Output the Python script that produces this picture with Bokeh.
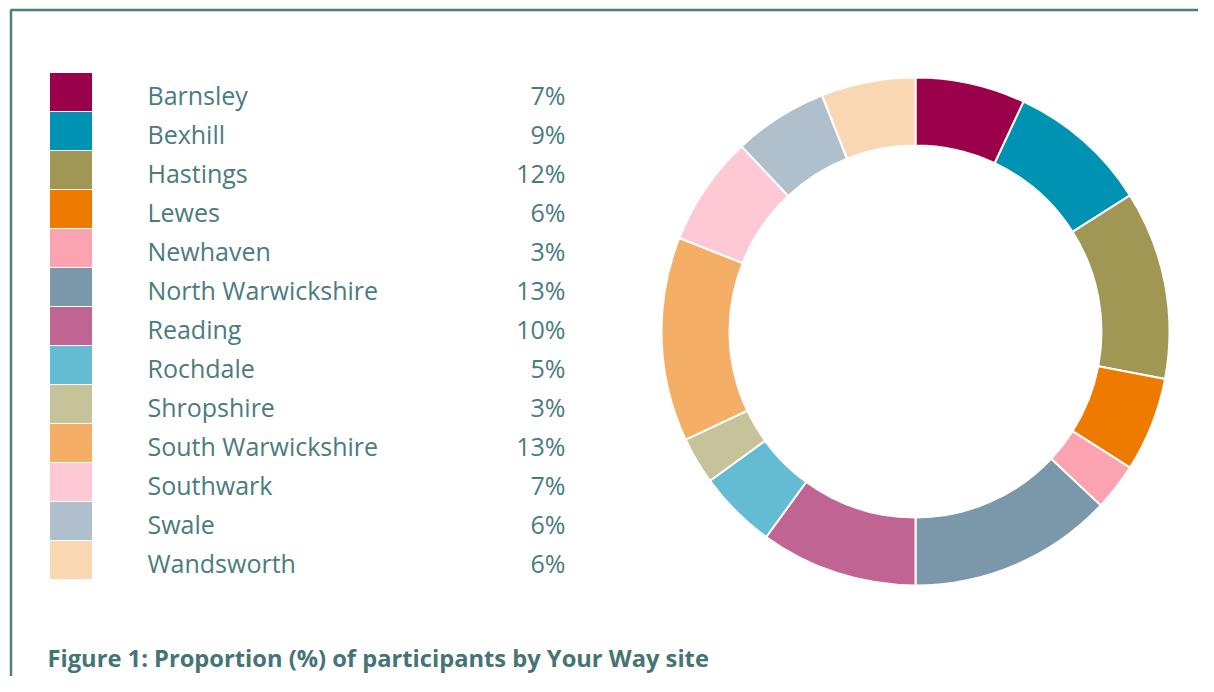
import math
from bokeh.plotting import figure
from bokeh.models import Range1d, ColumnDataSource
from bokeh.core.properties import value
from bokeh.embed import file_html
from bokeh.resources import INLINE

sites = ["Barnsley", "Bexhill", "Hastings", "Lewes", "Newhaven", "North Warwickshire",
         "Reading", "Rochdale", "Shropshire", "South Warwickshire", "Southwark", "Swale",
         "Wandsworth"]
shares = [7, 9, 12, 6, 3, 13, 10, 5, 3, 13, 7, 6, 6]
colors = ["#9b004b", "#0092b3", "#a09755", "#ef7a00", "#fba3b1", "#7b98aa", "#c06593",
          "#63bcd2", "#c6c39a", "#f4ae66", "#fec8d4", "#afbfcc", "#fad7b3"]
caption = "Figure 1: Proportion (%) of participants by Your Way site"

W, H = 1198, 676
TEXT = "#4a7c7d"
FONT = "Open Sans"

p = figure(width=W, height=H, x_range=Range1d(0, W), y_range=Range1d(0, H),
           output_backend="svg", toolbar_location=None,
           x_axis_location=None, y_axis_location=None, min_border=0)
p.grid.visible = False
p.outline_line_color = None
p.background_fill_color = "white"

# frame (top and left edges only visible)
p.line(x=[10.5, 10.5, 1300], y=[-20, 666.5, 666.5], line_color="#4e7f80", line_width=2.5)

# legend
row_h = 39
top0 = 604
tops = [top0 - row_h * i for i in range(len(sites))]
bots = [t - row_h for t in tops]
mids = [t - row_h / 2 - 3 for t in tops]
leg = ColumnDataSource(dict(top=tops, bottom=bots, mid=mids, site=sites, color=colors,
                            pct=[f"{s}%" for s in shares]))
p.quad(left=49, right=92, top="top", bottom="bottom", fill_color="color",
       line_color="white", line_width=1, source=leg)
p.text(x=147, y="mid", text="site", source=leg, text_font=value(FONT),
       text_font_size="25px", text_color=TEXT, text_baseline="middle", text_align="left")
p.text(x=565, y="mid", text="pct", source=leg, text_font=value(FONT),
       text_font_size="25px", text_color=TEXT, text_baseline="middle", text_align="right")

# donut
total = sum(shares)
cum = [0]
for s in shares:
    cum.append(cum[-1] + s)
starts = [math.pi / 2 - 2 * math.pi * c / total for c in cum[:-1]]
ends = [math.pi / 2 - 2 * math.pi * c / total for c in cum[1:]]
donut = ColumnDataSource(dict(start=starts, end=ends, color=colors))
p.annular_wedge(x=915, y=345, inner_radius=186, outer_radius=254,
                start_angle="start", end_angle="end", direction="clock",
                fill_color="color", line_color="white", line_width=2, source=donut)

# caption
p.text(x=[47], y=[19], text=[caption], text_font=value(FONT), text_font_size="23.7px",
       text_font_style="bold", text_color="#457474", text_baseline="middle")

open("out.html", "w").write(file_html(p, INLINE))
